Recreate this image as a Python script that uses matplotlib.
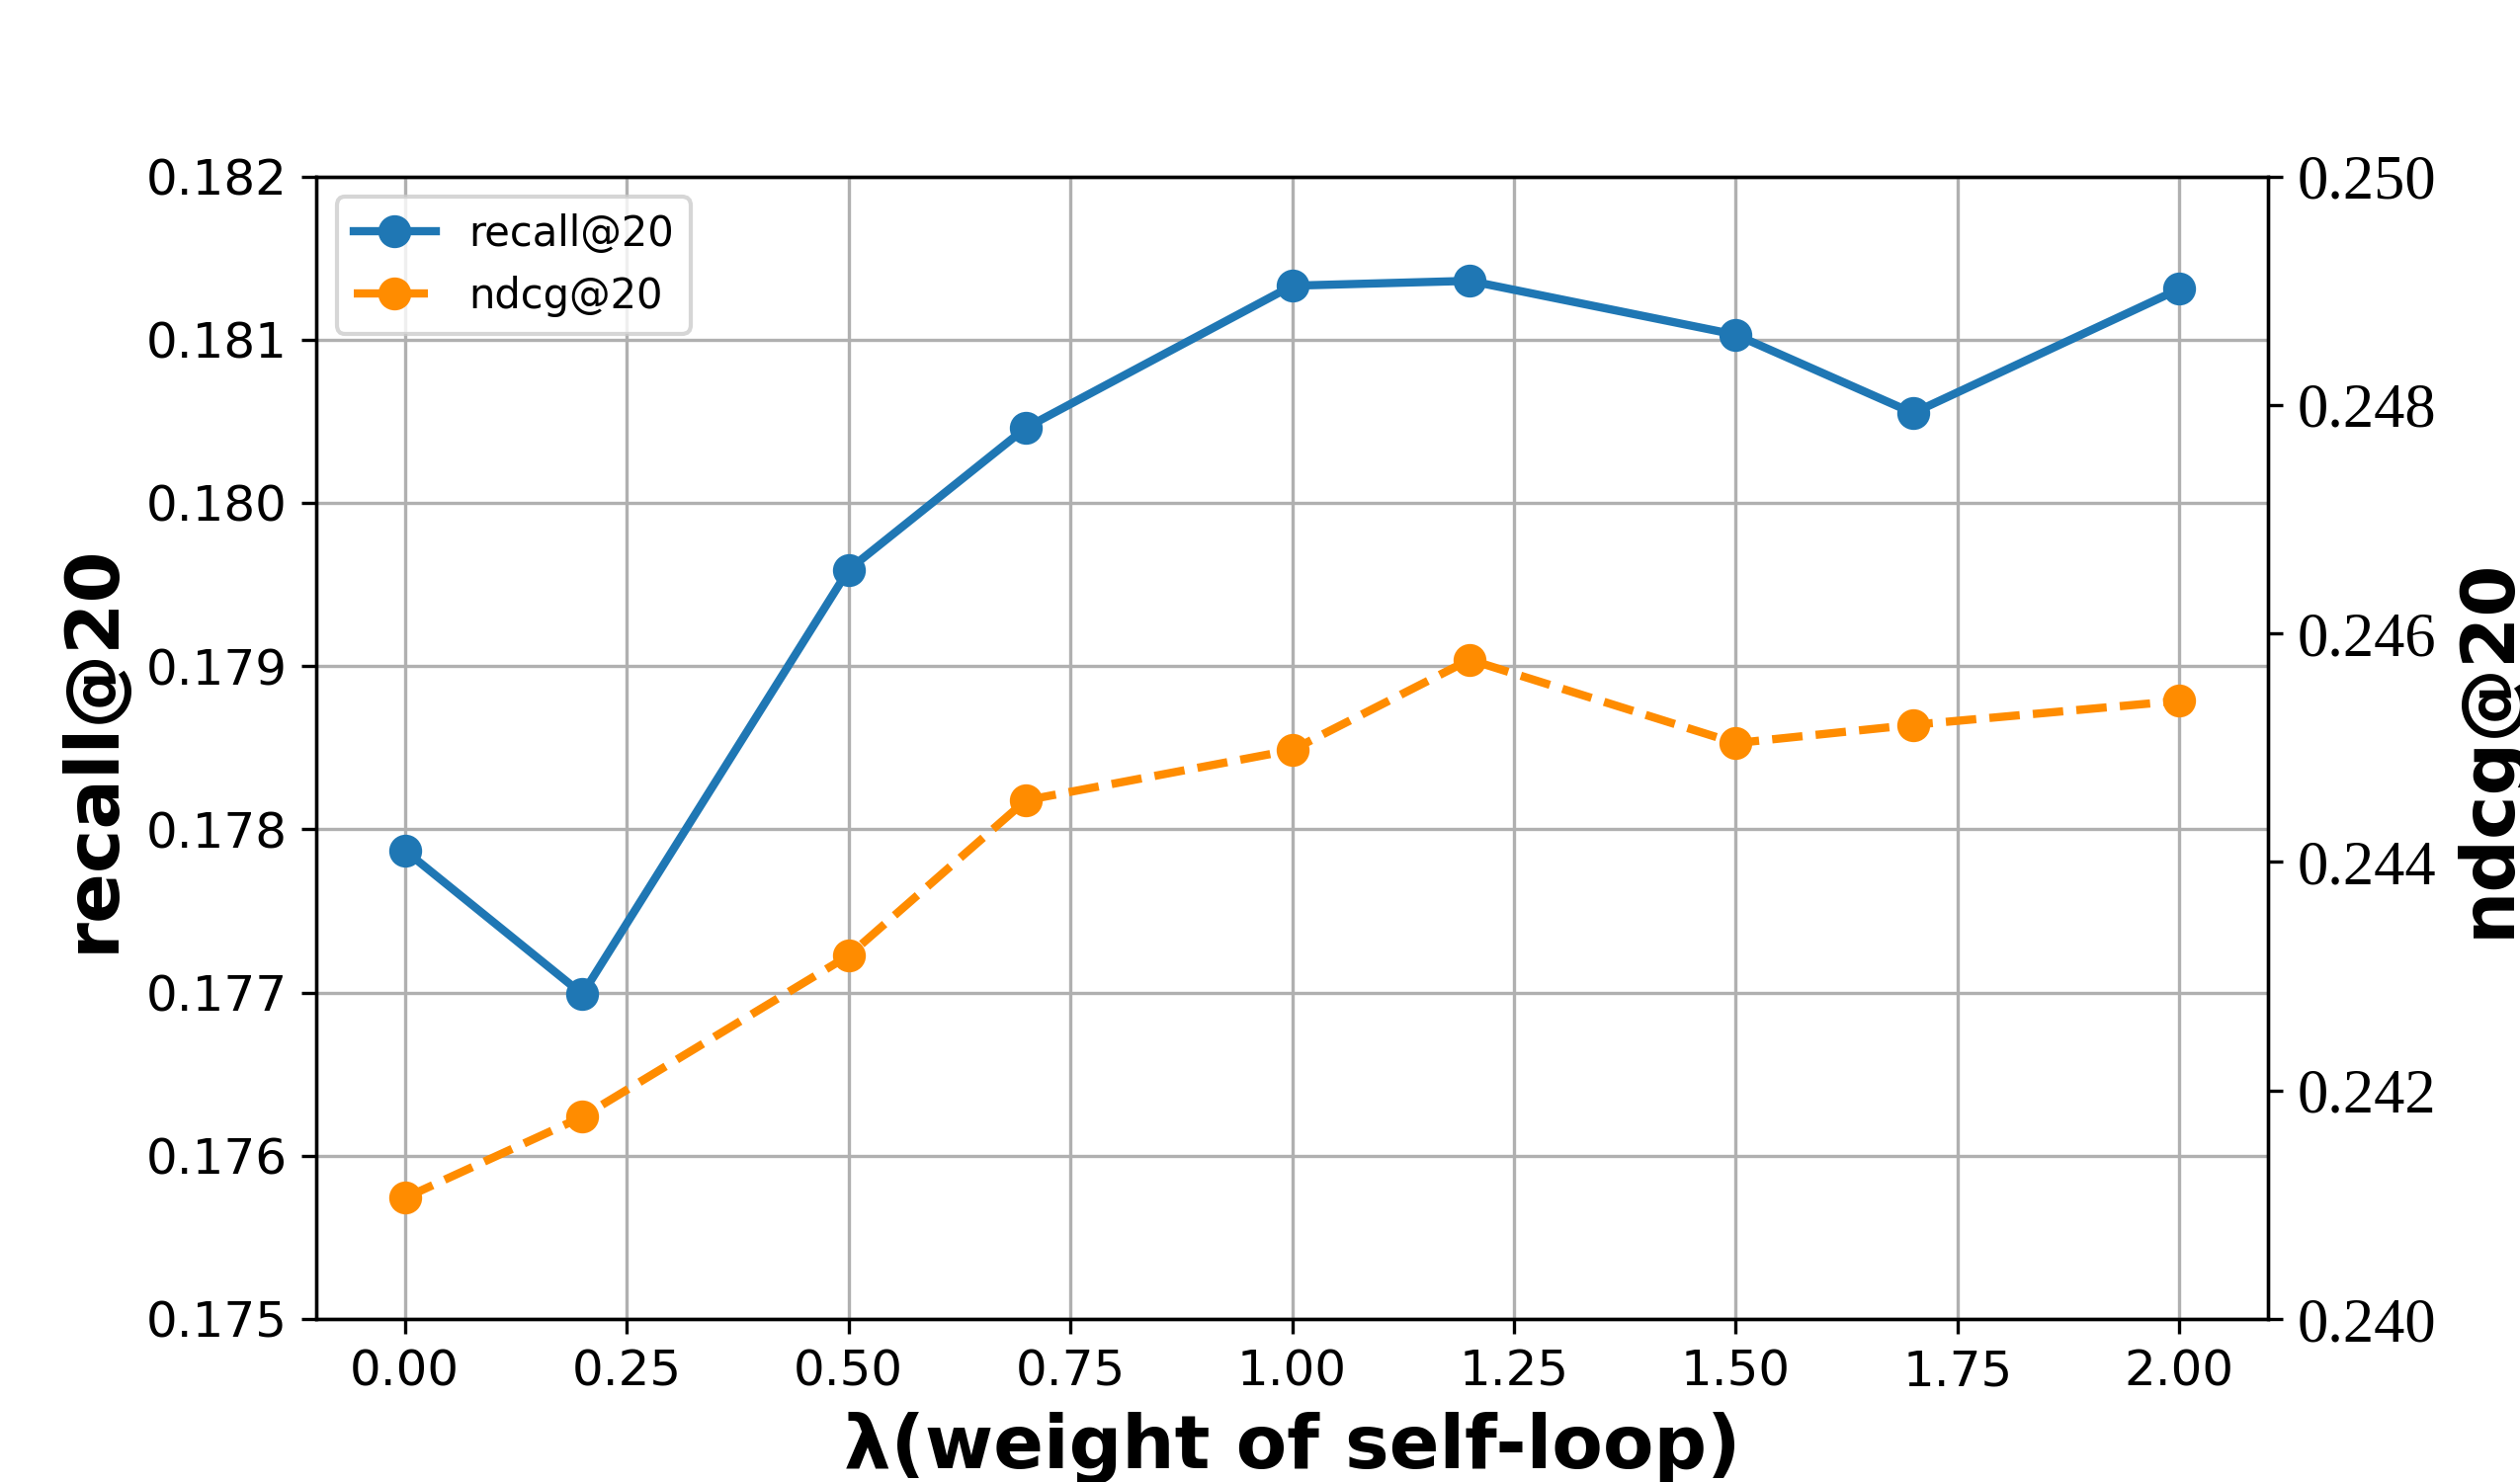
import matplotlib
matplotlib.use("Agg")
import matplotlib.pyplot as plt

# self-loop weight sweep
lambdas = [0.0, 0.2, 0.5, 0.7, 1.0, 1.2, 1.5, 1.7, 2.0]
recall = [0.17787, 0.17699, 0.17959, 0.18046, 0.18133, 0.18136, 0.18103, 0.18055, 0.18131]
ndcg = [0.24106, 0.24177, 0.24318, 0.24454, 0.24498, 0.24577, 0.24504, 0.24520, 0.24541]

recall_ticks = [0.175, 0.176, 0.177, 0.178, 0.179, 0.180, 0.181, 0.182]
ndcg_ticks = [0.240, 0.242, 0.244, 0.246, 0.248, 0.250]

fig, ax = plt.subplots(figsize=(8.5, 5), dpi=300)
fig.subplots_adjust(left=0.1255, right=0.9, bottom=0.11, top=0.881)

l1, = ax.plot(lambdas, recall, '-o', color='#1f77b4', lw=2, ms=7, label='recall@20')
ax.set_ylim(0.175, 0.182)
ax.set_yticks(recall_ticks)
ax.set_yticklabels(["%.3f" % t for t in recall_ticks])
ax.tick_params(labelsize=12)
ax.grid(True, color='#b0b0b0', lw=0.8)
ax.set_xlabel('λ(weight of self-loop)', fontsize=18, fontweight='bold')
ax.set_ylabel('recall@20', fontsize=18, fontweight='bold')

ax2 = ax.twinx()
l2, = ax2.plot(lambdas, ndcg, '--o', color='#ff8c00', lw=2, ms=7, label='ndcg@20')
ax2.set_ylim(0.240, 0.250)
ax2.set_yticks(ndcg_ticks)
ax2.set_yticklabels(["%.3f" % t for t in ndcg_ticks], family='Liberation Serif', fontsize=15)
ax2.set_ylabel('ndcg@20', fontsize=18, fontweight='bold')

ax2.legend([l1, l2], ['recall@20', 'ndcg@20'], loc='upper left', fontsize=10)

fig.savefig('out.png')
